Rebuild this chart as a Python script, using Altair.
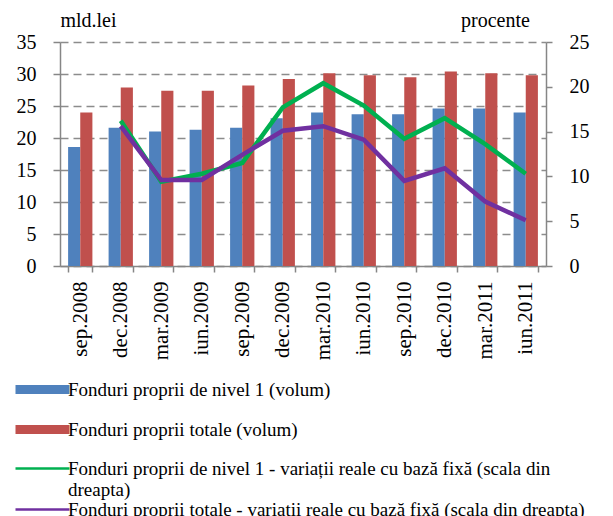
import altair as alt
import pandas as pd

categories = ["sep.2008", "dec.2008", "mar.2009", "iun.2009", "sep.2009", "dec.2009",
              "mar.2010", "iun.2010", "sep.2010", "dec.2010", "mar.2011", "iun.2011"]
tier1_volume = [18.6, 21.6, 21.0, 21.3, 21.6, 23.1, 24.0, 23.7, 23.7, 24.6, 24.6, 24.0]
total_volume = [24.0, 27.9, 27.4, 27.4, 28.2, 29.2, 30.1, 29.8, 29.5, 30.4, 30.1, 29.8]
tier1_change = [None, 16.2, 9.4, 10.3, 11.5, 17.7, 20.4, 17.9, 14.2, 16.5, 13.6, 10.3]
total_change = [None, 15.6, 9.6, 9.6, 12.4, 15.1, 15.6, 14.1, 9.5, 10.9, 7.2, 5.1]

bar_names = ["Fonduri proprii de nivel 1 (volum)", "Fonduri proprii totale (volum)"]
line_names = ["Fonduri proprii de nivel 1 - variații reale cu bază fixă (scala din|dreapta)",
              "Fonduri proprii totale - variații reale cu bază fixă (scala din dreapta)"]
bar_colors = ["#4F81BD", "#C0504D"]
line_colors = ["#00B050", "#7030A0"]

left_ticks = [0, 5, 10, 15, 20, 25, 30, 35]
right_ticks = [0, 5, 10, 15, 20, 25]

rows = []
for name, vals in zip(bar_names, [tier1_volume, total_volume]):
    for c, v in zip(categories, vals):
        rows.append({"cat": c, "series": name, "value": v})
bars_df = pd.DataFrame(rows)

rows = []
for name, vals in zip(line_names, [tier1_change, total_change]):
    for c, v in zip(categories, vals):
        if v is not None:
            rows.append({"cat": c, "series": name, "value": v})
lines_df = pd.DataFrame(rows)

FONT = "Liberation Serif"
GRAY = "#868686"

x_enc = alt.X(
    "cat:N", sort=categories,
    scale=alt.Scale(paddingInner=0.4, paddingOuter=0.2),
    axis=alt.Axis(title=None, labelAngle=-90, labelAlign="right", labelBaseline="middle",
                  labelFont=FONT, labelFontSize=21, labelColor="black", labelPadding=9,
                  domainColor=GRAY, domainWidth=1.5, tickColor=GRAY, tickWidth=1.5,
                  tickSize=6, tickBand="extent", grid=False),
)

bars = alt.Chart(bars_df).mark_bar().encode(
    x=x_enc,
    xOffset=alt.XOffset("series:N", sort=bar_names, scale=alt.Scale(paddingInner=0, paddingOuter=0)),
    y=alt.Y("value:Q", scale=alt.Scale(domain=[0, 35], nice=False),
            axis=alt.Axis(values=left_ticks, title="mld.lei", titleAngle=0, titleAlign="center",
                          titleBaseline="middle", titleX=28, titleY=-22, titleFont=FONT,
                          titleFontSize=20, titleFontWeight="normal", titleColor="black",
                          labelFont=FONT, labelFontSize=20, labelColor="black", labelPadding=17,
                          domainColor=GRAY, domainWidth=1.5, tickColor=GRAY, tickWidth=1.5,
                          tickSize=7, grid=True, gridDash=[8, 5], gridColor="#8c8c8c",
                          gridWidth=1.5)),
    color=alt.Color("series:N", sort=bar_names,
                    scale=alt.Scale(domain=bar_names, range=bar_colors),
                    legend=alt.Legend(title=None, orient="none", legendX=-27, legendY=338,
                                      symbolType="M-6.75,-1.1H6.75V1.1H-6.75Z", symbolSize=64,
                                      symbolStrokeWidth=0, labelFont=FONT, labelFontSize=19,
                                      labelColor="black", labelOffset=16, labelLimit=700,
                                      rowPadding=20)),
)

lines = alt.Chart(lines_df).mark_line(strokeWidth=4.5).encode(
    x=x_enc,
    y=alt.Y("value:Q", scale=alt.Scale(domain=[0, 25], nice=False),
            axis=alt.Axis(orient="right", values=right_ticks, title="procente", titleAngle=0,
                          titleAlign="center", titleBaseline="middle", titleX=-51, titleY=-22,
                          titleFont=FONT, titleFontSize=20, titleFontWeight="normal",
                          titleColor="black", labelFont=FONT, labelFontSize=20,
                          labelColor="black", labelPadding=17, domainColor=GRAY,
                          domainWidth=1.5, tickColor=GRAY, tickWidth=1.5, tickSize=6,
                          grid=False)),
    color=alt.Color("series:N", sort=line_names,
                    scale=alt.Scale(domain=line_names, range=line_colors),
                    legend=alt.Legend(title=None, orient="none", legendX=-27, legendY=417,
                                      symbolType="M-6.75,0H6.75", symbolSize=64,
                                      symbolStrokeWidth=2.5, labelFont=FONT, labelFontSize=19,
                                      labelColor="black", labelOffset=16, labelLimit=700,
                                      rowPadding=-4, labelExpr="split(datum.label, '|')")),
    order=alt.Order("series:N"),
)

chart = alt.layer(bars, lines).resolve_scale(y="independent", color="independent").properties(
    width=486, height=224,
    padding={"left": 52, "top": 34, "right": 57, "bottom": 250},
    autosize=alt.AutoSizeParams(type="none"),
).configure_view(strokeWidth=0).configure_axis(
    labelFont=FONT, titleFont=FONT
).configure_legend(labelFont=FONT)

chart.save("out.html", embed_options={"renderer": "svg", "actions": False})
